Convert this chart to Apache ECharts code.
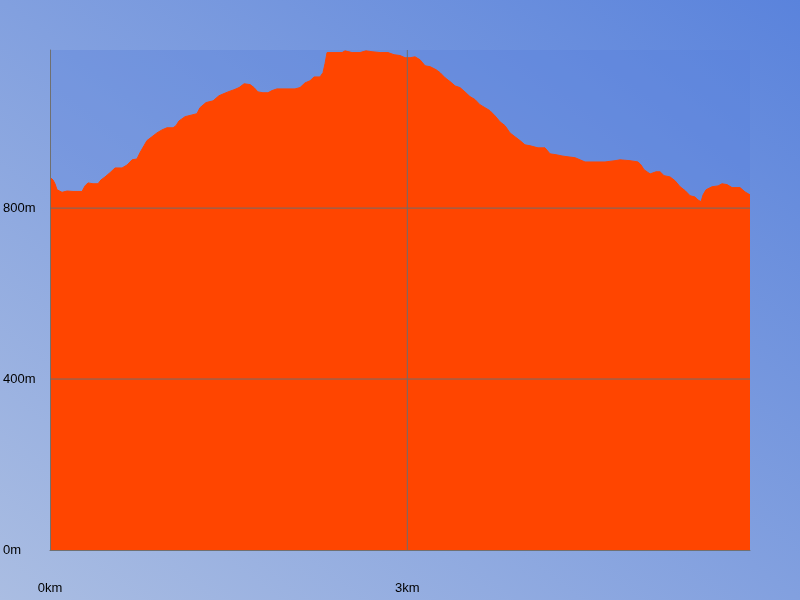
<!DOCTYPE html>
<html>
<head>
<meta charset="utf-8">
<script src="https://cdn.jsdelivr.net/npm/echarts@6/dist/echarts.min.js"></script>
<style>
html,body{margin:0;padding:0;width:800px;height:600px;overflow:hidden;}
body{background:linear-gradient(to top right,#aabde2,#5a83dc);}
#c{width:800px;height:600px;}
</style>
</head>
<body>
<div id="c"></div>
<script>
// distance along track (km)
const distanceKm = [0,0.025,0.042,0.059,0.101,0.143,0.193,0.269,0.294,0.319,0.361,0.403,0.428,0.462,0.504,0.546,0.605,0.647,0.689,0.730,0.756,0.789,0.814,0.856,0.898,0.940,0.982,1.033,1.058,1.083,1.134,1.192,1.234,1.259,1.310,1.369,1.419,1.461,1.495,1.545,1.587,1.630,1.680,1.713,1.746,1.788,1.830,1.864,1.906,1.973,2.057,2.099,2.141,2.183,2.217,2.267,2.292,2.309,2.326,2.393,2.452,2.477,2.536,2.603,2.653,2.704,2.771,2.838,2.888,2.939,2.981,3.023,3.065,3.107,3.149,3.191,3.241,3.275,3.317,3.359,3.401,3.442,3.484,3.526,3.568,3.610,3.652,3.694,3.736,3.778,3.820,3.862,3.904,3.946,3.988,4.030,4.097,4.156,4.198,4.248,4.299,4.349,4.408,4.492,4.576,4.660,4.744,4.786,4.870,4.937,4.962,4.987,5.038,5.088,5.122,5.155,5.206,5.248,5.290,5.332,5.374,5.416,5.441,5.466,5.483,5.508,5.558,5.609,5.642,5.684,5.726,5.793,5.835,5.877];
// elevation (m)
const elevationM = [872,866,857,843,837,840,839,839,852,859,857,857,866,873,883,894,894,901,913,915,930,946,958,967,976,983,988,988,993,1004,1014,1018,1021,1035,1047,1051,1063,1068,1072,1077,1082,1091,1089,1082,1072,1070,1070,1075,1079,1079,1079,1082,1093,1098,1107,1107,1117,1138,1164,1164,1164,1168,1164,1164,1168,1166,1164,1164,1159,1157,1152,1152,1154,1147,1133,1131,1124,1117,1105,1096,1086,1082,1072,1061,1054,1042,1035,1028,1016,1002,993,976,967,958,948,946,941,941,927,925,922,920,918,908,908,908,911,913,911,908,901,890,880,885,885,876,873,864,850,841,829,826,819,815,831,843,850,852,857,855,848,848,838,831];
const yTicks = [0,400,800];
const xTicks = [0,3];
const yMax = 1170;

const xMax = distanceKm[distanceKm.length-1];
const data = distanceKm.map((d,i)=>[d,elevationM[i]]);
const chart = echarts.init(document.getElementById('c'), null, {renderer:'canvas'});
const font = {fontFamily:'Liberation Sans', fontSize:13, color:'#000'};
const gridStyle = {color:'#6e6e6e',width:1,type:'solid',opacity:1};
const gridSeries = yTicks.filter(v=>v>0).map(v=>[[0,v],[xMax,v]])
  .concat(xTicks.filter(v=>v>0).map(v=>[[v,0],[v,yMax]]))
  .map(pts=>({type:'line',data:pts,symbol:'none',showSymbol:false,z:10,silent:true,
              lineStyle:gridStyle,emphasis:{disabled:true},tooltip:{show:false}}));
chart.setOption({
  animation:false,
  backgroundColor:'transparent',
  grid:{left:50,right:50,top:50,bottom:50,show:true,backgroundColor:'rgba(90,130,220,0.35)',borderWidth:0},
  xAxis:{
    type:'value', min:0, max:xMax, interval:xTicks[1]-xTicks[0], z:5,
    axisLine:{show:true,lineStyle:{color:'#707070',width:1}},
    axisTick:{show:false},
    splitLine:{show:false},
    axisLabel:Object.assign({margin:38,verticalAlign:'middle',showMaxLabel:false,
      formatter:v=>xTicks.includes(v)?v+'km':''},font)
  },
  yAxis:{
    type:'value', min:0, max:yMax, interval:yTicks[1]-yTicks[0], z:5,
    axisLine:{show:true,lineStyle:{color:'#707070',width:1}},
    axisTick:{show:false},
    splitLine:{show:false},
    axisLabel:Object.assign({margin:47,align:'left',showMaxLabel:false,
      formatter:v=>yTicks.includes(v)?v+'m':''},font)
  },
  series:[{
    type:'line', data:data, showSymbol:false, symbol:'none', smooth:false, z:2,
    lineStyle:{color:'#ff4500',width:1},
    areaStyle:{color:'#ff4500',opacity:1}
  }].concat(gridSeries)
});
</script>
</body>
</html>
